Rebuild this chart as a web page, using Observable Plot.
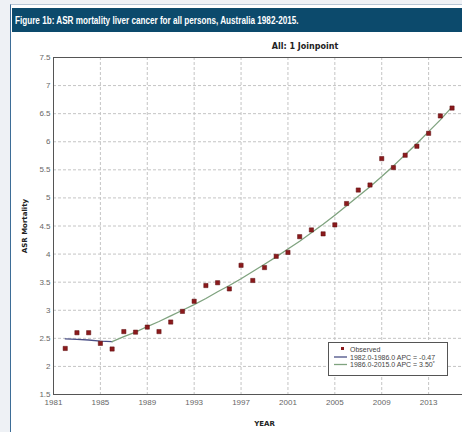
<!DOCTYPE html>
<html>
<head>
<meta charset="utf-8">
<script src="https://cdn.jsdelivr.net/npm/d3@7"></script>
<script src="https://cdn.jsdelivr.net/npm/@observablehq/plot@0.6"></script>
<style>
  html, body { margin: 0; padding: 0; }
  body { width: 462px; height: 432px; overflow: hidden; position: relative; background: #eef1f5; font-family: "Liberation Sans", Arial, sans-serif; }
  #panel { position: absolute; left: 10px; top: 4px; width: 480px; height: 440px; background: #fff; border-left: 1.5px solid #3d6d97; border-top: 1px solid #b7c7d6; }
  #head { position: absolute; left: 11.5px; top: 8px; width: 460px; height: 24px; background: #0c4a6c; }
  #head span { position: absolute; left: 3px; top: 0; color: #fff; font: bold 11px "Liberation Sans", Arial, sans-serif; line-height: 24px; white-space: nowrap; transform: scaleX(0.74); transform-origin: 0 50%; }
  #title { position: absolute; left: 235px; width: 140px; top: 42px; text-align: center; font: bold 8px "DejaVu Sans", sans-serif; color: #222; }
  #chart { position: absolute; left: 0; top: 33px; }
  #chart svg { max-width: none !important; }
  #chart [aria-label="x-axis label"] text, #chart [aria-label="y-axis label"] text { font-family: "DejaVu Sans", sans-serif; font-size: 7px; font-weight: bold; fill: #222; }
  #legend { position: absolute; left: 328px; top: 342px; }
</style>
</head>
<body>
<div id="panel"></div>
<div id="head"><span></span></div>
<div id="title"></div>
<div id="chart"></div>
<div id="legend"></div>
<script>
// Age-standardised liver cancer mortality, all persons, Australia
const years = [1982, 1983, 1984, 1985, 1986, 1987, 1988, 1989, 1990, 1991, 1992, 1993,
  1994, 1995, 1996, 1997, 1998, 1999, 2000, 2001, 2002, 2003, 2004, 2005,
  2006, 2007, 2008, 2009, 2010, 2011, 2012, 2013, 2014, 2015];
const observed = [2.32, 2.60, 2.60, 2.41, 2.31, 2.62, 2.61, 2.70, 2.62, 2.79, 2.98, 3.16,
  3.44, 3.49, 3.38, 3.80, 3.53, 3.76, 3.96, 4.03, 4.31, 4.43, 4.36, 4.52,
  4.90, 5.14, 5.23, 5.70, 5.54, 5.76, 5.92, 6.15, 6.46, 6.60];

// Joinpoint segments (modelled rates)
const seg1Years = [1982, 1983, 1984, 1985, 1986];
const seg1Fit = [2.49, 2.48, 2.47, 2.45, 2.44];
const seg2Years = [1986, 1987, 1988, 1989, 1990, 1991, 1992, 1993, 1994, 1995, 1996, 1997,
  1998, 1999, 2000, 2001, 2002, 2003, 2004, 2005, 2006, 2007, 2008, 2009,
  2010, 2011, 2012, 2013, 2014, 2015];
const seg2Fit = [2.44, 2.53, 2.61, 2.71, 2.80, 2.90, 3.00, 3.10, 3.21, 3.33, 3.44, 3.56,
  3.69, 3.82, 3.95, 4.09, 4.23, 4.38, 4.53, 4.69, 4.86, 5.03, 5.20, 5.38,
  5.57, 5.77, 5.97, 6.18, 6.39, 6.62];

const segLabels = ["1982.0-1986.0 APC  = -0.47", "1986.0-2015.0 APC  =  3.50"];
const segColors = ["#4a4f86", "#7fa37f"];
const pointColor = "#8b1a1c";

const xTicks = [1981, 1985, 1989, 1993, 1997, 2001, 2005, 2009, 2013];
const yTicks = [1.5, 2, 2.5, 3, 3.5, 4, 4.5, 5, 5.5, 6, 6.5, 7, 7.5];

const figureTitle = "Figure 1b: ASR mortality liver cancer for all persons, Australia 1982-2015.";
const chartTitle = "All: 1 Joinpoint";

document.querySelector("#head span").textContent = figureTitle;
document.getElementById("title").textContent = chartTitle;

const obs = years.map((year, i) => ({year, asr: observed[i]}));
const fit1 = seg1Years.map((year, i) => ({year, asr: seg1Fit[i]}));
const fit2 = seg2Years.map((year, i) => ({year, asr: seg2Fit[i]}));

const chart = Plot.plot({
  width: 500,
  height: 399,
  marginLeft: 53,
  marginRight: 25,
  marginTop: 24,
  marginBottom: 38,
  style: {fontFamily: "'Liberation Sans', Arial, sans-serif", fontSize: "8px", color: "#666", background: "transparent", overflow: "visible", maxWidth: "none"},
  x: {domain: [1981, 2017], ticks: xTicks, tickFormat: d => String(d), tickSize: 0, tickPadding: 5,
      label: "YEAR", labelAnchor: "center", labelOffset: 31, labelArrow: "none"},
  y: {domain: [1.5, 7.5], ticks: yTicks, tickFormat: d => String(d), tickSize: 0, tickPadding: 3,
      label: "ASR Mortality", labelAnchor: "center", labelOffset: 31, labelArrow: "none"},
  marks: [
    Plot.gridX(xTicks, {stroke: "#c4c4c4", strokeOpacity: 1, strokeDasharray: "3,2"}),
    Plot.gridY(yTicks, {stroke: "#c4c4c4", strokeOpacity: 1, strokeDasharray: "3,2"}),
    Plot.frame({stroke: "#555"}),
    Plot.line(fit1, {x: "year", y: "asr", stroke: segColors[0], strokeWidth: 1.3}),
    Plot.line(fit2, {x: "year", y: "asr", stroke: segColors[1], strokeWidth: 1.3}),
    Plot.dot(obs, {x: "year", y: "asr", symbol: "square", r: 2.4, fill: pointColor, stroke: "#5c0f10", strokeWidth: 0.5})
  ]
});
document.getElementById("chart").appendChild(chart);

// Legend box
const lg = d3.select("#legend").append("svg").attr("width", 121).attr("height", 35)
  .style("font-family", "'Liberation Sans', Arial, sans-serif").style("font-size", "7px");
lg.append("rect").attr("x", 0.5).attr("y", 0.5).attr("width", 119).attr("height", 33)
  .attr("fill", "#fff").attr("stroke", "#555");
lg.append("rect").attr("x", 13).attr("y", 5).attr("width", 3).attr("height", 3).attr("fill", pointColor);
lg.append("text").attr("x", 22).attr("y", 10).attr("fill", "#444").text("Observed");
segLabels.forEach((label, i) => {
  const yy = 15 + i * 7.5;
  lg.append("line").attr("x1", 6).attr("x2", 19).attr("y1", yy).attr("y2", yy)
    .attr("stroke", segColors[i]).attr("stroke-width", 1.3);
  const t = lg.append("text").attr("x", 22).attr("y", yy + 2.5).attr("fill", "#444").text(label);
  if (i === 1) t.append("tspan").attr("font-size", "5px").attr("dy", -2).text("*");
});
</script>
</body>
</html>
